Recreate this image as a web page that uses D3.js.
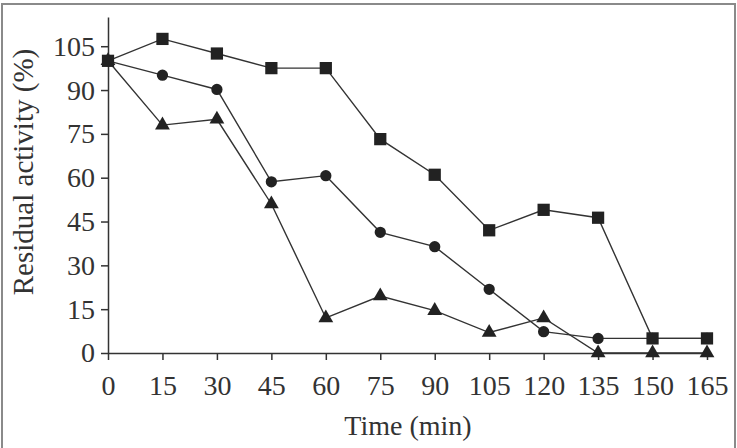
<!DOCTYPE html>
<html>
<head>
<meta charset="utf-8">
<script src="https://cdn.jsdelivr.net/npm/d3@7"></script>
<style>
  body { margin: 0; background: #fff; }
  svg { display: block; }
</style>
</head>
<body>
<svg id="chart"></svg>
<script>
// time points (min)
const times = [0, 15, 30, 45, 60, 75, 90, 105, 120, 135, 150, 165];
const xTicks = [0, 15, 30, 45, 60, 75, 90, 105, 120, 135, 150, 165];
const yTicks = [0, 15, 30, 45, 60, 75, 90, 105];

// residual activity (%) per series
const squareValues = [100, 107.5, 102.5, 97.5, 97.5, 73.2, 61, 42, 49, 46.3, 5, 5];
const circleValues = [100, 95.1, 90.2, 58.6, 60.7, 41.3, 36.4, 21.8, 7.3, 5, 5, 5];
const triangleValues = [100, 78, 80, 51, 12, 19.5, 14.5, 7, 12, 0, 0, 0];

const xLabel = "Time (min)";
const yLabel = "Residual activity (%)";

let width = 737,
  height = 448,
  svg = d3.select("#chart").attr("width", width).attr("height", height);

let x = d3.scaleLinear().domain([0, 165]).range([108, 707]);
let y = d3.scaleLinear().domain([0, 115]).range([353, 17]);

// outer frame
svg.append("rect")
  .attr("x", 2).attr("y", 4)
  .attr("width", 733).attr("height", 460)
  .attr("fill", "none")
  .attr("stroke", "#8a8a8a")
  .attr("stroke-width", 2);

const font = "'Liberation Serif', 'Times New Roman', serif";

// x axis
let xAxis = svg.append("g")
  .attr("transform", "translate(0," + y(0) + ")")
  .call(d3.axisBottom(x).tickValues(xTicks).tickSize(7).tickSizeOuter(0).tickPadding(15));

// y axis
let yAxis = svg.append("g")
  .attr("transform", "translate(" + x(0) + ",0)")
  .call(d3.axisLeft(y).tickValues(yTicks).tickSize(7).tickSizeOuter(0).tickPadding(6));

[xAxis, yAxis].forEach((a) => {
  a.select(".domain").attr("stroke", "#333").attr("stroke-width", 1.5);
  a.selectAll(".tick line").attr("stroke", "#333").attr("stroke-width", 1.5);
  a.selectAll("text")
    .attr("fill", "#333")
    .style("font-family", font)
    .style("font-size", "28px");
});

// axis titles
svg.append("text")
  .attr("x", 408).attr("y", 435)
  .attr("text-anchor", "middle")
  .attr("fill", "#333")
  .style("font-family", font)
  .style("font-size", "28px")
  .text(xLabel);

svg.append("text")
  .attr("transform", "translate(33,172) rotate(-90)")
  .attr("text-anchor", "middle")
  .attr("fill", "#333")
  .style("font-family", font)
  .style("font-size", "29px")
  .text(yLabel);

let line = d3.line()
  .x((d, i) => x(times[i]))
  .y((d) => y(d));

let series = [
  { values: triangleValues, shape: d3.symbolTriangle, size: 95 },
  { values: circleValues, shape: d3.symbolCircle, size: 100 },
  { values: squareValues, shape: d3.symbolSquare, size: 150 }
];

series.forEach((s) => {
  svg.append("path")
    .datum(s.values)
    .attr("fill", "none")
    .attr("stroke", "#333")
    .attr("stroke-width", 1.4)
    .attr("d", line);

  svg.append("g")
    .selectAll("path")
    .data(s.values)
    .enter()
    .append("path")
    .attr("transform", (d, i) => "translate(" + x(times[i]) + "," + y(d) + ")")
    .attr("d", d3.symbol().type(s.shape).size(s.size))
    .attr("fill", "#222");
});
</script>
</body>
</html>
